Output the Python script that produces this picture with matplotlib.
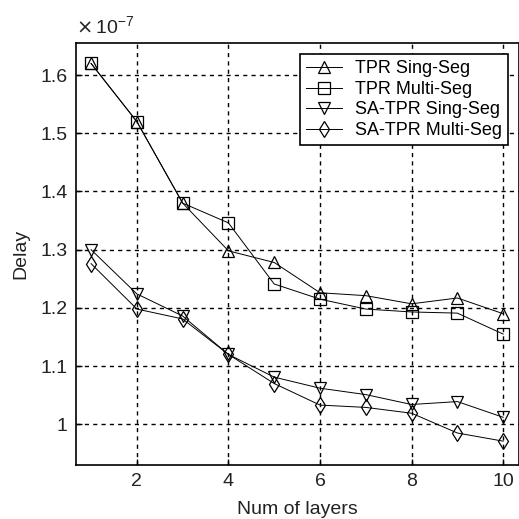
import numpy as np
import matplotlib.pyplot as plt

plt.rcParams['font.family'] = ['Liberation Sans', 'DejaVu Sans']

layers = [1, 2, 3, 4, 5, 6, 7, 8, 9, 10]
# delay values, in units of 1e-7
tpr_sing = [1.62, 1.52, 1.38, 1.298, 1.278, 1.226, 1.221, 1.207, 1.217, 1.19]
tpr_multi = [1.62, 1.52, 1.38, 1.346, 1.241, 1.215, 1.198, 1.193, 1.191, 1.155]
sa_sing = [1.30, 1.224, 1.186, 1.12, 1.081, 1.062, 1.051, 1.034, 1.039, 1.012]
sa_multi = [1.276, 1.198, 1.181, 1.12, 1.070, 1.033, 1.029, 1.019, 0.985, 0.971]

series = [(tpr_sing, "^", "TPR Sing-Seg"),
          (tpr_multi, "s", "TPR Multi-Seg"),
          (sa_sing, "v", "SA-TPR Sing-Seg"),
          (sa_multi, "d", "SA-TPR Multi-Seg")]

fig = plt.figure(figsize=(5.19, 5.19), dpi=100)
ax = fig.add_axes([0.1464, 0.104, 0.854, 0.813])

for vals, mk, label in series:
    ax.plot(layers, vals, "-", color="black", lw=0.7, marker=mk, ms=8,
            mfc="none", mec="black", mew=0.9, label=label)

ax.set_xlim(0.67, 10.35)
ax.set_ylim(0.93, 1.655)
ax.set_xticks([2, 4, 6, 8, 10])
ax.set_yticks([1.0, 1.1, 1.2, 1.3, 1.4, 1.5, 1.6])
ax.set_yticklabels(["1", "1.1", "1.2", "1.3", "1.4", "1.5", "1.6"])
ax.tick_params(direction="in", labelsize=14, length=4, width=1, pad=6,
               labelcolor="#222222")
ax.grid(True, color="black", linestyle=(0, (3, 3)), linewidth=1)
for sp in ax.spines.values():
    sp.set_linewidth(1.2)

ax.set_xlabel("Num of layers", fontsize=14, labelpad=8, color="#222222")
ax.set_ylabel("Delay", fontsize=14, labelpad=8, color="#222222")
ax.text(0.0, 1.015, r"$\times\,\mathregular{10^{-7}}$", transform=ax.transAxes,
        fontsize=14, ha="left", va="bottom", color="#222222")

leg = ax.legend(loc="upper right", fontsize=13, frameon=True, fancybox=False,
                edgecolor="black", framealpha=1, handlelength=2.0,
                borderpad=0.35, labelspacing=0.2, borderaxespad=0.6,
                handletextpad=0.7)
leg.get_frame().set_linewidth(1.2)

fig.savefig("out.png", dpi=100)
